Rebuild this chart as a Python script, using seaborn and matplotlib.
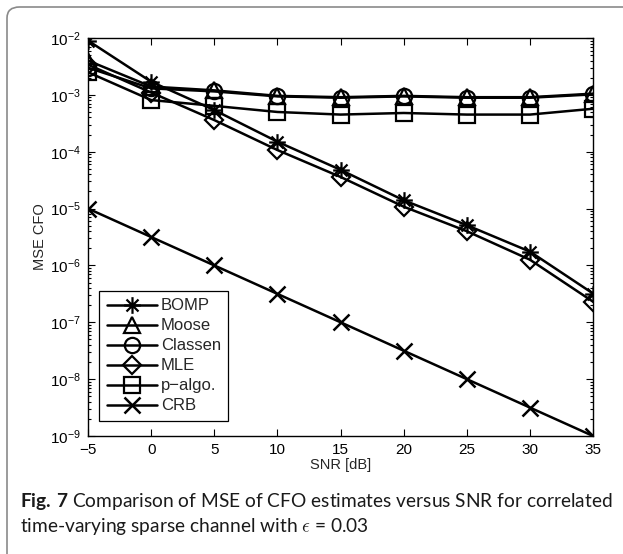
import numpy as np
import pandas as pd
import matplotlib
matplotlib.use("Agg")
import matplotlib.pyplot as plt
from matplotlib.patches import FancyBboxPatch
from matplotlib.path import Path
from matplotlib.ticker import LogLocator, NullFormatter, FixedLocator
import seaborn as sns

# SNR grid and MSE of the CFO estimates for each method
snr = [-5, 0, 5, 10, 15, 20, 25, 30, 35]
bomp = [9.0e-3, 1.7e-3, 5.4e-4, 1.5e-4, 4.8e-5, 1.4e-5, 5.1e-6, 1.75e-6, 3.2e-7]
moose = [4.0e-3, 1.4e-3, 1.2e-3, 9.6e-4, 9.1e-4, 9.6e-4, 9.1e-4, 9.1e-4, 1.05e-3]
classen = [3.0e-3, 1.3e-3, 1.15e-3, 9.4e-4, 8.9e-4, 9.4e-4, 8.9e-4, 8.9e-4, 1.02e-3]
mle = [3.4e-3, 1.1e-3, 3.6e-4, 1.07e-4, 3.6e-5, 1.08e-5, 4.0e-6, 1.26e-6, 2.3e-7]
p_algo = [2.5e-3, 8.1e-4, 6.4e-4, 5.0e-4, 4.5e-4, 4.8e-4, 4.5e-4, 4.5e-4, 5.7e-4]
crb = [1.0e-5, 3.16e-6, 1.0e-6, 3.16e-7, 1.0e-7, 3.16e-8, 1.0e-8, 3.16e-9, 1.0e-9]

series = {
    "BOMP": bomp,
    "Moose": moose,
    "Classen": classen,
    "MLE": mle,
    "p\u2212algo.": p_algo,
    "CRB": crb,
}

# asterisk made of strokes: horizontal, vertical and two diagonals
d = 0.72
asterisk = Path(
    [(-1, 0), (1, 0), (0, -1), (0, 1), (-d, -d), (d, d), (-d, d), (d, -d)],
    [Path.MOVETO, Path.LINETO] * 4,
)

marker_for = {
    "BOMP": asterisk,
    "Moose": "^",
    "Classen": "o",
    "MLE": "D",
    "p\u2212algo.": "s",
    "CRB": "x",
}

xticks = [-5, 0, 5, 10, 15, 20, 25, 30, 35]

sns.set_theme(style="ticks")
plt.rcParams["font.family"] = ["Liberation Sans", "DejaVu Sans"]
plt.rcParams["mathtext.fontset"] = "custom"
plt.rcParams["mathtext.rm"] = "Liberation Sans"
plt.rcParams["mathtext.it"] = "Liberation Sans:italic"
plt.rcParams["mathtext.bf"] = "Lato:bold"

fig = plt.figure(figsize=(6.23, 5.54), dpi=100)
ax = fig.add_axes([0.1413, 0.213, 0.952 - 0.1413, 0.9314 - 0.213])

for name, vals in series.items():
    df = pd.DataFrame({"SNR": snr, "MSE": vals})
    kw = dict(markersize=11, markeredgewidth=1.6, markerfacecolor="none",
              markeredgecolor="black")
    if name == "BOMP":
        kw.update(markersize=12, markeredgewidth=1.6)
    if name == "MLE":
        kw.update(markersize=9)
    if name == "CRB":
        kw.update(markersize=11, markeredgewidth=1.8)
    sns.lineplot(data=df, x="SNR", y="MSE", ax=ax, color="black", linewidth=1.8,
                 marker=marker_for[name], label=name, **kw)

ax.set_yscale("log")
ax.set_xlim(-5, 35)
ax.set_ylim(1e-9, 1e-2)
ax.xaxis.set_major_locator(FixedLocator(xticks))
ax.set_xticklabels(["\u22125" if t < 0 else str(t) for t in xticks])
ax.yaxis.set_major_locator(LogLocator(base=10, numticks=20))
ax.yaxis.set_minor_locator(LogLocator(base=10, subs=np.arange(2, 10), numticks=20))
ax.yaxis.set_minor_formatter(NullFormatter())

ax.tick_params(which="both", direction="in", top=True, right=True,
               labelsize=11, colors="black", width=0.8)
ax.tick_params(which="major", length=5, pad=5)
ax.tick_params(which="minor", length=2.5)
for s in ax.spines.values():
    s.set_linewidth(1.0)
    s.set_color("black")

ax.set_xlabel("SNR [dB]", fontsize=10.5, labelpad=1)
ax.set_ylabel("MSE CFO", fontsize=10.5, labelpad=2)

leg = ax.legend(loc="lower left", bbox_to_anchor=(0.022, 0.038), fontsize=12,
                frameon=True, fancybox=False, edgecolor="black", framealpha=1,
                handlelength=3.0, handletextpad=0.25, borderpad=0.45,
                labelspacing=0.3, borderaxespad=0)
leg.get_frame().set_linewidth(0.9)

# rounded frame around the figure block
frame = FancyBboxPatch((7 / 623, -0.05), 1.2, 1 - 7 / 554 + 0.05,
                       boxstyle="round,pad=0,rounding_size=0.02",
                       transform=fig.transFigure, fill=False,
                       edgecolor="#8a8a8a", linewidth=1.2, clip_on=False)
fig.patches.append(frame)

# caption
cap_font = ["Lato", "DejaVu Sans"]
cap_size = 13.8
fig.text(20 / 623, 1 - 507 / 554,
         "$\\mathbf{Fig.\\,7}$ Comparison of MSE of CFO estimates versus SNR for correlated",
         fontsize=cap_size, family=cap_font, color="#1a1a1a")
fig.text(20 / 623, 1 - 532 / 554,
         "time-varying sparse channel with $\\epsilon$ = 0.03",
         fontsize=cap_size, family=cap_font, color="#1a1a1a",
         math_fontfamily="cm")

fig.savefig("out.png", dpi=100)
